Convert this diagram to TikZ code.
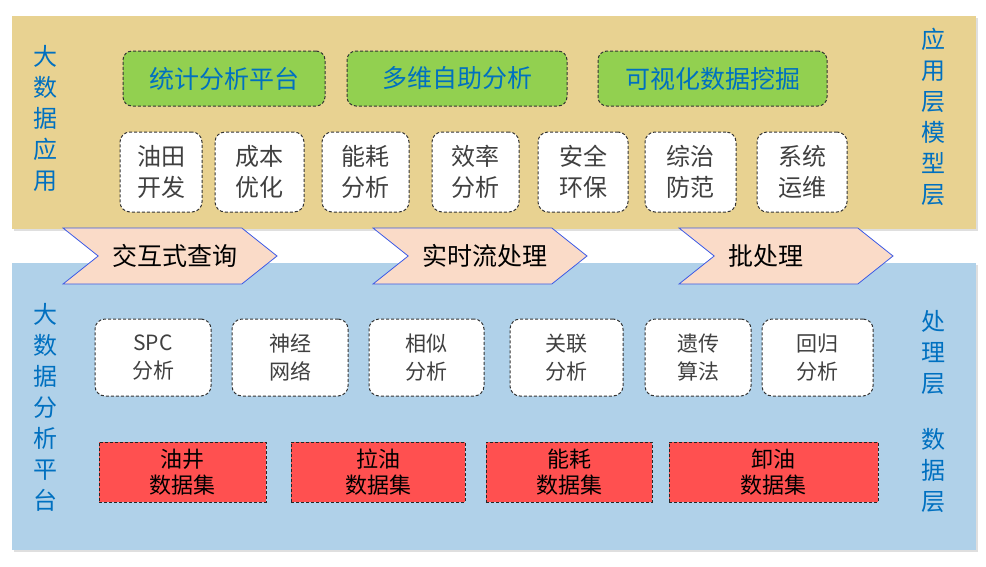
\documentclass[tikz,border=0pt]{standalone}
\usepackage{fontspec}
\setmainfont{Noto Sans CJK SC}
\usetikzlibrary{shapes.symbols,shadows}
\definecolor{tanbg}{RGB}{232,210,145}
\definecolor{bluebg}{RGB}{176,209,233}
\definecolor{leafgreen}{RGB}{146,208,80}
\definecolor{peach}{RGB}{250,219,200}
\definecolor{flowline}{RGB}{60,90,230}
\definecolor{layerblue}{RGB}{0,112,192}
\definecolor{setred}{RGB}{255,80,80}
\tikzset{
  panel/.style={
    draw=none,
    drop shadow={shadow xshift=2pt, shadow yshift=-2pt, opacity=.25}},
  sidelabel/.style={
    text=layerblue,
    align=center,
    inner sep=0pt,
    font=\fontsize{24}{31}\selectfont},
  toolbox/.style={
    rectangle,
    rounded corners=9pt,
    fill=leafgreen,
    draw=black!80, line width=1pt, dash pattern=on 3pt off 2pt,
    text=layerblue,
    minimum height=55pt,
    font=\fontsize{25}{30}\selectfont},
  appbox/.style={
    rectangle,
    rounded corners=10pt,
    fill=white,
    draw=black!80, line width=1pt, dash pattern=on 3pt off 2pt,
    text=black!75,
    align=center,
    minimum height=80pt,
    inner sep=0pt,
    font=\fontsize{24}{31}\selectfont},
  algbox/.style={
    appbox,
    minimum height=77pt,
    font=\fontsize{21}{28}\selectfont},
  databox/.style={
    rectangle,
    fill=setred,
    draw=black!85, line width=1pt, dash pattern=on 3pt off 2pt,
    text=black,
    align=center,
    minimum height=60pt,
    inner sep=0pt,
    font=\fontsize{22}{26}\selectfont},
  flow/.style={
    signal, signal to=east, signal from=west,
    signal pointer angle=77,
    fill=peach,
    draw=flowline, thick,
    minimum width=214pt,
    minimum height=56pt,
    inner sep=0pt,
    font=\fontsize{25}{30}\selectfont},
}
\begin{document}
\begin{tikzpicture}[x=1pt, y=-1pt]
\useasboundingbox (0,0) rectangle (986,566);
% layers
\fill[tanbg, panel] (12,16) rectangle (976,229);
\fill[bluebg, panel] (12,263) rectangle (976,550);
% side labels
\node[sidelabel] (apptitle) at (45,118) {大\\数\\据\\应\\用};
\node[sidelabel] (modellayer) at (933,117) {应\\用\\层\\模\\型\\层};
\node[sidelabel] (platform) at (45,407) {大\\数\\据\\分\\析\\平\\台};
\node[sidelabel] (proclayer) at (933,353) {处\\理\\层};
\node[sidelabel] (datalayer) at (933,470) {数\\据\\层};
% application tools
\node[toolbox, minimum width=202pt] (stat) at (224,78.5) {统计分析平台};
\node[toolbox, minimum width=220pt] (selfhelp) at (457,78.5) {多维自助分析};
\node[toolbox, minimum width=229pt] (visual) at (712.5,78.5) {可视化数据挖掘};
% application models
\node[appbox, minimum width=82pt] (develop) at (161,172) {油田\\开发};
\node[appbox, minimum width=89pt] (cost) at (259.5,172) {成本\\优化};
\node[appbox, minimum width=87pt] (energy) at (365.5,172) {能耗\\分析};
\node[appbox, minimum width=87pt] (effic) at (475.5,172) {效率\\分析};
\node[appbox, minimum width=90pt] (safety) at (583,172) {安全\\环保};
\node[appbox, minimum width=91pt] (prevent) at (690.5,172) {综治\\防范};
\node[appbox, minimum width=90pt] (ops) at (802,172) {系统\\运维};
% processing modes
\node[flow] (query) at (170,256) {\hspace*{10pt}交互式查询};
\node[flow] (stream) at (480,256) {\hspace*{10pt}实时流处理};
\node[flow] (batch) at (786,256) {批处理\hspace*{40pt}};
% algorithms
\node[algbox, minimum width=116pt] (spc) at (153,357.5) {SPC\\分析};
\node[algbox, minimum width=116pt] (neural) at (290,357.5) {神经\\网络};
\node[algbox, minimum width=115pt] (similar) at (426.5,357.5) {相似\\分析};
\node[algbox, minimum width=113pt] (assoc) at (566.5,357.5) {关联\\分析};
\node[algbox, minimum width=106pt] (genetic) at (698,357.5) {遗传\\算法};
\node[algbox, minimum width=111pt] (regress) at (817.5,357.5) {回归\\分析};
% data sets
\node[databox, minimum width=167pt] (wells) at (182.5,472) {油井\\数据集};
\node[databox, minimum width=174pt] (pumping) at (378,472) {拉油\\数据集};
\node[databox, minimum width=166pt] (energyset) at (569,472) {能耗\\数据集};
\node[databox, minimum width=209pt] (unload) at (773.5,472) {卸油\\数据集};
\end{tikzpicture}
\end{document}
